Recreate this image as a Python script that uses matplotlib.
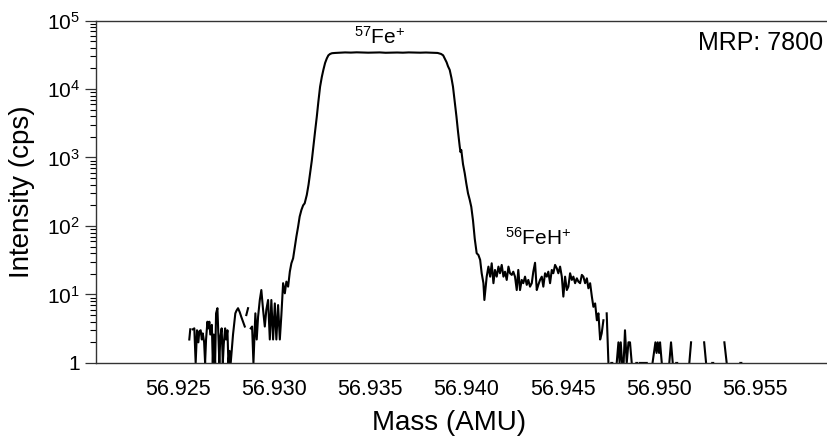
import numpy as np
import matplotlib
matplotlib.use("Agg")
import matplotlib.pyplot as plt
from matplotlib.ticker import FixedLocator, FixedFormatter, LogLocator, NullFormatter

plt.rcParams["font.family"] = ["Liberation Sans", "DejaVu Sans"]
plt.rcParams["mathtext.fontset"] = "custom"
plt.rcParams["mathtext.rm"] = "Liberation Sans"
plt.rcParams["mathtext.default"] = "regular"

# Scan: mass (AMU) and intensity (cps); 0 means no counts recorded
mass = [
    56.92561, 56.92566, 56.92573, 56.92579, 56.92587, 56.92594, 56.92601, 56.92608,
    56.92613, 56.92620, 56.92626, 56.92631, 56.92638, 56.92643, 56.92648, 56.92655,
    56.92660, 56.92665, 56.92670, 56.92678, 56.92683, 56.92688, 56.92695, 56.92700,
    56.92707, 56.92712, 56.92717, 56.92722, 56.92729, 56.92735, 56.92740, 56.92747,
    56.92752, 56.92759, 56.92764, 56.92770, 56.92776, 56.92788, 56.92800, 56.92806,
    56.92814, 56.92823, 56.92831, 56.92840, 56.92849, 56.92853, 56.92857, 56.92866,
    56.92873, 56.92880, 56.92887, 56.92894, 56.92899, 56.92904, 56.92911, 56.92918,
    56.92927, 56.92935, 56.92944, 56.92953, 56.92961, 56.92970, 56.92979, 56.92987,
    56.92996, 56.93005, 56.93013, 56.93022, 56.93031, 56.93039, 56.93048, 56.93057,
    56.93065, 56.93074, 56.93083, 56.93091, 56.93100, 56.93109, 56.93117, 56.93126,
    56.93134, 56.93143, 56.93152, 56.93160, 56.93171, 56.93180, 56.93188, 56.93197,
    56.93205, 56.93214, 56.93223, 56.93231, 56.93240, 56.93249, 56.93257, 56.93266,
    56.93275, 56.93283, 56.93292, 56.93302, 56.93318,
    56.93340, 56.93370, 56.93400, 56.93430, 56.93460, 56.93490, 56.93520, 56.93550,
    56.93580, 56.93610, 56.93640, 56.93670, 56.93700, 56.93730, 56.93760, 56.93790,
    56.93820, 56.93850,
    56.93868, 56.93879, 56.93887, 56.93897, 56.93904, 56.93913, 56.93922, 56.93930,
    56.93939, 56.93948, 56.93956, 56.93965, 56.93969, 56.93973, 56.93982, 56.93991,
    56.93999, 56.94008, 56.94017, 56.94025, 56.94034, 56.94043, 56.94053, 56.94062,
    56.94071, 56.94079, 56.94088, 56.94093, 56.94098, 56.94105, 56.94114, 56.94123,
    56.94131, 56.94140, 56.94148, 56.94157, 56.94166, 56.94174, 56.94183, 56.94192,
    56.94200, 56.94209, 56.94218, 56.94226, 56.94235, 56.94243, 56.94252, 56.94261,
    56.94269, 56.94278, 56.94287, 56.94295, 56.94304, 56.94313, 56.94321, 56.94330,
    56.94339, 56.94347, 56.94356, 56.94365, 56.94373, 56.94382, 56.94391, 56.94399,
    56.94408, 56.94417, 56.94425, 56.94434, 56.94443, 56.94451, 56.94460, 56.94469,
    56.94477, 56.94486, 56.94495, 56.94503, 56.94512, 56.94521, 56.94529, 56.94538,
    56.94547, 56.94555, 56.94564, 56.94573, 56.94581, 56.94590, 56.94599, 56.94607,
    56.94616, 56.94625, 56.94633, 56.94642, 56.94651, 56.94659, 56.94668, 56.94677,
    56.94685, 56.94694, 56.94702, 56.94711, 56.94720, 56.94728, 56.94737, 56.94746,
    56.94752, 56.94757, 56.94764, 56.94780, 56.94789, 56.94795, 56.94801, 56.94808,
    56.94816, 56.94823, 56.94832, 56.94841, 56.94849, 56.94858, 56.94865, 56.94882,
    56.94887, 56.94894, 56.94901, 56.94917, 56.94936, 56.94943, 56.94966, 56.94981,
    56.94987, 56.94993, 56.95000, 56.95005, 56.95014, 56.95021, 56.95053, 56.95062,
    56.95071, 56.95078, 56.95089, 56.95094, 56.95101, 56.95157, 56.95166, 56.95174,
    56.95234, 56.95244, 56.95252, 56.95276, 56.95281, 56.95288, 56.95339, 56.95351,
    56.95358, 56.95422, 56.95427,
]
intensity = [
    2.2, 3.1, 0, 3.1, 3.2, 1, 3, 2,
    2.9, 3, 2.2, 2.7, 2, 1, 2.2, 4,
    3.2, 4, 2.6, 3.6, 1, 2.6, 1, 5.3,
    6.3, 2.6, 1, 2.4, 3.2, 1, 1.9, 3.2,
    2.2, 3, 1, 1.5, 1, 2.6, 5.3, 5.8,
    6.3, 5.5, 4.7, 4, 3.4, 0, 5, 6.3,
    0, 3.2, 3.4, 1, 2.2, 5.3, 2.2, 4.7,
    8.3, 11.6, 6, 3.4, 6, 8.3, 2.2, 8.3,
    2.2, 7.4, 2.2, 7, 2.2, 5, 14.6, 10.4,
    15.4, 13, 21.6, 28.5, 33.7, 50, 70, 98,
    137, 171, 200, 214, 284, 400, 588, 900,
    1440, 2400, 3960, 6500, 10800, 15000, 19000, 24000,
    28000, 31000, 32500, 33300, 33600,
    33800, 34200, 34000, 34300, 34100, 33900, 34000, 34200,
    33800, 34000, 34100, 33900, 34200, 34000, 33900, 34100,
    33800, 33600,
    32500, 31000, 28000, 24500, 21500, 19000, 14500, 10800,
    6500, 3960, 2400, 1440, 1200, 1290, 800, 588,
    420, 300, 240, 190, 120, 65, 40, 37.7,
    32, 20.4, 14.6, 8.3, 11.6, 18.2, 25.5, 18.2,
    28.5, 14.6, 22.8, 18.2, 25.5, 20.4, 27, 18.2,
    21.5, 16.3, 25.5, 20.4, 19.3, 21.5, 18.2, 11.6,
    22.8, 11.6, 16.3, 14.6, 18.2, 13.8, 16.3, 13,
    14.6, 21.5, 29, 11.6, 13.8, 16.3, 18.2, 13,
    20.4, 18.2, 21.5, 14.6, 22.8, 20.4, 27, 24.1,
    20.4, 25.5, 18.2, 9.3, 18.2, 11.6, 13, 20.4,
    16.3, 18.2, 14.6, 17.2, 15.4, 14.6, 19.3, 18.2,
    14.6, 17.2, 12.3, 14.6, 9.3, 6.6, 7.4, 4.2,
    5.3, 2.2, 2.7, 4.2, 0, 5.3, 1, 0,
    1, 1, 0, 1, 2, 1, 2, 1,
    1, 3, 1, 2, 2, 1, 0, 1,
    1, 0, 1, 1, 1, 0, 1, 2,
    1.4, 2, 1.4, 2, 1, 0, 1, 2,
    1, 0, 1, 1, 0, 1, 2, 0,
    2, 1, 0, 1, 1, 0, 2, 1,
    0, 1, 1,
]

x_ticks = [56.925, 56.930, 56.935, 56.940, 56.945, 56.950, 56.955]
x_tick_labels = ["56.925", "56.930", "56.935", "56.940", "56.945", "56.950", "56.955"]
y_ticks = [1, 10, 100, 1e3, 1e4, 1e5]
y_tick_labels = ["1", r"$10^{1}$", r"$10^{2}$", r"$10^{3}$", r"$10^{4}$", r"$10^{5}$"]

m = np.array(mass)
counts = np.array(intensity, dtype=float)
counts = np.where(counts > 0, counts, np.nan)

fig = plt.figure(figsize=(8.28, 4.41), dpi=100)
ax = fig.add_axes([0.1165, 0.177, 0.8835, 0.7765])

ax.plot(m, counts, color="black", lw=1.5, solid_joinstyle="round")

ax.set_yscale("log")
ax.set_ylim(1, 1e5)
ax.set_xlim(56.92079, 56.95877)

ax.xaxis.set_major_locator(FixedLocator(x_ticks))
ax.xaxis.set_major_formatter(FixedFormatter(x_tick_labels))
ax.yaxis.set_major_locator(FixedLocator(y_ticks))
ax.yaxis.set_major_formatter(FixedFormatter(y_tick_labels))
ax.yaxis.set_minor_locator(LogLocator(base=10, subs=np.arange(2, 10)))
ax.yaxis.set_minor_formatter(NullFormatter())

ax.tick_params(axis="x", length=0, pad=11.5, labelsize=15.5)
ax.tick_params(axis="y", which="major", length=8, width=0.9, pad=4, labelsize=15)
ax.tick_params(axis="y", which="minor", length=4.2, width=0.8)

for side in ("left", "top", "bottom"):
    ax.spines[side].set_linewidth(1.0)
    ax.spines[side].set_color("#333333")
ax.spines["right"].set_visible(False)
ax.tick_params(colors="#333333", labelcolor="black")

ax.set_xlabel("Mass (AMU)", fontsize=20)
ax.set_ylabel("Intensity (cps)", fontsize=20)
ax.xaxis.set_label_coords(0.4826, -0.137)
ax.xaxis.label.set_va("top")
ax.yaxis.set_label_coords(-0.084, 0.5)

ax.text(0.3876, 0.9334, r"$^{57}$Fe$^{+}$", transform=ax.transAxes,
        ha="center", va="baseline", fontsize=15)
ax.text(0.6036, 0.3445, r"$^{56}$FeH$^{+}$", transform=ax.transAxes,
        ha="center", va="baseline", fontsize=15)
ax.text(0.9936, 0.9139, "MRP: 7800", transform=ax.transAxes,
        ha="right", va="baseline", fontsize=18)

fig.savefig("out.png", dpi=100)
